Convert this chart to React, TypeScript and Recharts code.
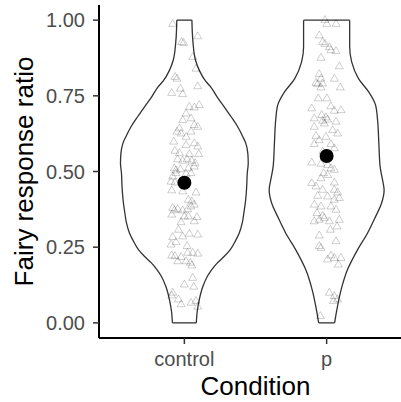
import React from 'react';
import { ComposedChart, XAxis, YAxis, Line, Scatter } from 'recharts';

const categories = ['control', 'p'];
const yTicks = [0, 0.25, 0.5, 0.75, 1];
const meanRatio = [0.463, 0.551];

// violin outline: ratio levels and half-widths (in category units)
const controlViolinRatio = [0, 0.04, 0.077, 0.12, 0.154, 0.176, 0.198, 0.22, 0.242, 0.27, 0.297, 0.33, 0.362, 0.395, 0.428, 0.46, 0.494, 0.527, 0.56, 0.593, 0.615, 0.647, 0.68, 0.713, 0.745, 0.779, 0.8, 0.834, 0.87, 0.93, 1.0];
const controlViolinHalf = [0.084, 0.091, 0.105, 0.13, 0.162, 0.193, 0.232, 0.281, 0.323, 0.358, 0.386, 0.407, 0.418, 0.428, 0.435, 0.439, 0.442, 0.449, 0.446, 0.432, 0.411, 0.376, 0.33, 0.281, 0.232, 0.186, 0.147, 0.105, 0.077, 0.06, 0.053];
const pViolinRatio = [0, 0.044, 0.11, 0.176, 0.242, 0.297, 0.351, 0.395, 0.439, 0.472, 0.516, 0.593, 0.67, 0.719, 0.762, 0.806, 0.862, 0.912, 1.0];
const pViolinHalf = [0.056, 0.072, 0.102, 0.147, 0.218, 0.288, 0.344, 0.386, 0.404, 0.393, 0.376, 0.367, 0.358, 0.344, 0.297, 0.225, 0.176, 0.162, 0.162];

// jittered raw observations: [horizontal jitter, ratio]
const controlPoints: [number, number][] = [[-0.082,0.987],[-0.019,0.927],[-0.005,0.924],[0.094,0.946],[0.059,0.878],[0.082,0.839],[-0.066,0.812],[-0.052,0.806],[-0.028,0.773],[-0.089,0.759],[-0.012,0.755],[0.094,0.781],[0.035,0.713],[0.070,0.711],[0.105,0.719],[0.012,0.691],[0.047,0.675],[-0.012,0.669],[0.070,0.653],[0.094,0.647],[-0.035,0.642],[-0.052,0.631],[-0.023,0.625],[0.047,0.631],[0.012,0.614],[-0.075,0.598],[0.070,0.593],[0.094,0.582],[0.012,0.587],[-0.066,0.568],[-0.035,0.560],[0.035,0.557],[0.101,0.557],[-0.047,0.540],[-0.012,0.535],[0.019,0.540],[0.052,0.535],[0.075,0.527],[-0.070,0.510],[-0.059,0.503],[-0.028,0.507],[0.028,0.510],[0.070,0.516],[-0.082,0.483],[-0.059,0.494],[0.012,0.492],[0.047,0.494],[-0.094,0.466],[-0.066,0.463],[-0.089,0.437],[-0.012,0.434],[0.082,0.430],[0.028,0.406],[0.052,0.401],[-0.082,0.379],[-0.070,0.371],[-0.047,0.375],[-0.012,0.371],[0.023,0.375],[0.047,0.384],[0.070,0.390],[-0.089,0.357],[0.000,0.351],[0.028,0.351],[0.089,0.349],[-0.023,0.332],[0.070,0.335],[-0.042,0.307],[0.035,0.294],[0.094,0.291],[-0.082,0.283],[-0.094,0.258],[-0.012,0.285],[-0.059,0.266],[0.019,0.253],[-0.089,0.222],[-0.066,0.220],[-0.023,0.217],[0.023,0.231],[0.059,0.231],[0.094,0.228],[-0.047,0.203],[0.012,0.203],[0.042,0.198],[0.052,0.189],[0.059,0.148],[0.000,0.126],[0.066,0.119],[-0.082,0.099],[-0.089,0.090],[-0.042,0.077],[-0.023,0.061],[0.082,0.072],[0.094,0.053],[0.047,0.066]];
const pPoints: [number, number][] = [[-0.012,1.0],[0.002,0.987],[0.066,0.987],[-0.052,0.949],[-0.028,0.927],[-0.012,0.921],[0.019,0.910],[0.030,0.900],[0.066,0.897],[-0.040,0.875],[0.089,0.847],[-0.052,0.821],[-0.040,0.806],[-0.075,0.792],[-0.063,0.788],[-0.028,0.790],[0.054,0.806],[-0.040,0.777],[0.096,0.777],[-0.059,0.741],[0.002,0.741],[-0.105,0.708],[0.030,0.715],[0.054,0.700],[0.101,0.702],[-0.035,0.686],[-0.005,0.678],[-0.087,0.675],[-0.028,0.667],[0.007,0.671],[0.066,0.664],[-0.087,0.647],[-0.016,0.658],[0.042,0.636],[-0.075,0.617],[-0.005,0.614],[0.077,0.625],[-0.052,0.603],[0.030,0.590],[-0.087,0.590],[0.054,0.576],[-0.028,0.565],[-0.105,0.529],[-0.040,0.525],[0.007,0.521],[0.030,0.510],[0.054,0.505],[-0.021,0.494],[0.007,0.488],[-0.040,0.477],[0.054,0.463],[-0.105,0.461],[-0.075,0.450],[-0.028,0.439],[0.054,0.439],[0.077,0.430],[-0.063,0.419],[0.007,0.417],[0.054,0.406],[0.089,0.412],[-0.087,0.390],[-0.040,0.384],[0.030,0.384],[0.066,0.373],[-0.068,0.362],[-0.028,0.353],[-0.052,0.340],[-0.016,0.346],[-0.087,0.335],[0.019,0.335],[0.089,0.340],[0.073,0.318],[0.026,0.307],[-0.052,0.288],[0.066,0.269],[-0.052,0.253],[-0.040,0.247],[0.030,0.222],[0.054,0.214],[0.101,0.214],[0.082,0.192],[0.007,0.209],[0.019,0.099],[0.054,0.088],[0.077,0.077],[0.049,0.072],[-0.044,0.022]];

const FONT = 'Liberation Sans, Arial, Helvetica, sans-serif';

function violinParts(center: number, ratio: number[], half: number[]) {
  const left = ratio.map((r, i) => ({ x: center - half[i], y: r }));
  const right = ratio.map((r, i) => ({ x: center + half[i], y: r }));
  const n = ratio.length - 1;
  const bottom = [left[0], right[0]];
  const top = [left[n], right[n]];
  return { left, right, bottom, top };
}

const violins = [
  violinParts(1, controlViolinRatio, controlViolinHalf),
  violinParts(2, pViolinRatio, pViolinHalf),
];

const pointData = [
  ...controlPoints.map(([j, r]) => ({ x: 1 + j, y: r })),
  ...pPoints.map(([j, r]) => ({ x: 2 + j, y: r })),
];
const meanData = meanRatio.map((m, i) => ({ x: i + 1, y: m }));

const Tri = (props: any) => {
  const { cx, cy } = props;
  if (cx == null || cy == null) return <g />;
  const d = `M${cx},${cy - 4.6}L${cx - 4},${cy + 2.3}L${cx + 4},${cy + 2.3}Z`;
  return <path d={d} fill="none" stroke="#000" strokeOpacity={0.28} strokeWidth={0.7} />;
};

const Dot = (props: any) => {
  const { cx, cy } = props;
  if (cx == null || cy == null) return <g />;
  return <circle cx={cx} cy={cy} r={7} fill="#000" />;
};

const lineProps = {
  dataKey: 'y',
  stroke: '#333333',
  strokeWidth: 1.3,
  dot: false,
  activeDot: false,
  isAnimationActive: false,
  legendType: 'none' as const,
};

export default function App() {
  return (
    <div style={{ position: 'absolute', left: 0, top: 0, width: 401, height: 402, overflow: 'hidden', background: '#fff' }}>
      <ComposedChart width={412} height={402} margin={{ top: 5, right: 0, bottom: 0, left: 0 }}>
        <XAxis
          type="number"
          dataKey="x"
          domain={[0.4, 2.6]}
          ticks={[1, 2]}
          allowDataOverflow
          tickFormatter={(v: number) => categories[Math.round(v) - 1] ?? ''}
          height={64}
          axisLine={{ stroke: '#000', strokeWidth: 2 }}
          tickLine={{ stroke: '#333', strokeWidth: 1.5 }}
          tickSize={6}
          tickMargin={8}
          tick={{ fill: '#4d4d4d', fontSize: 20, fontFamily: FONT }}
          label={{ value: 'Condition', position: 'insideBottom', offset: 7, fill: '#000', fontSize: 26, fontFamily: FONT }}
        />
        <YAxis
          type="number"
          dataKey="y"
          domain={[-0.05, 1.05]}
          ticks={yTicks}
          allowDataOverflow
          tickFormatter={(v: number) => v.toFixed(2)}
          width={99}
          axisLine={{ stroke: '#000', strokeWidth: 2 }}
          tickLine={{ stroke: '#333', strokeWidth: 1.5 }}
          tickSize={6}
          tickMargin={8}
          tick={{ fill: '#4d4d4d', fontSize: 20, fontFamily: FONT }}
          label={{ value: 'Fairy response ratio', angle: -90, position: 'insideLeft', offset: 24, fill: '#000', fontSize: 26, fontFamily: FONT, style: { textAnchor: 'middle' } }}
        />
        {violins.map((v, i) => (
          <Line key={`l${i}`} {...lineProps} data={v.left} type="monotoneY" />
        ))}
        {violins.map((v, i) => (
          <Line key={`r${i}`} {...lineProps} data={v.right} type="monotoneY" />
        ))}
        {violins.map((v, i) => (
          <Line key={`t${i}`} {...lineProps} data={v.top} type="linear" />
        ))}
        {violins.map((v, i) => (
          <Line key={`b${i}`} {...lineProps} data={v.bottom} type="linear" />
        ))}
        <Scatter data={pointData} shape={<Tri />} isAnimationActive={false} />
        <Scatter data={meanData} shape={<Dot />} isAnimationActive={false} />
      </ComposedChart>
    </div>
  );
}
